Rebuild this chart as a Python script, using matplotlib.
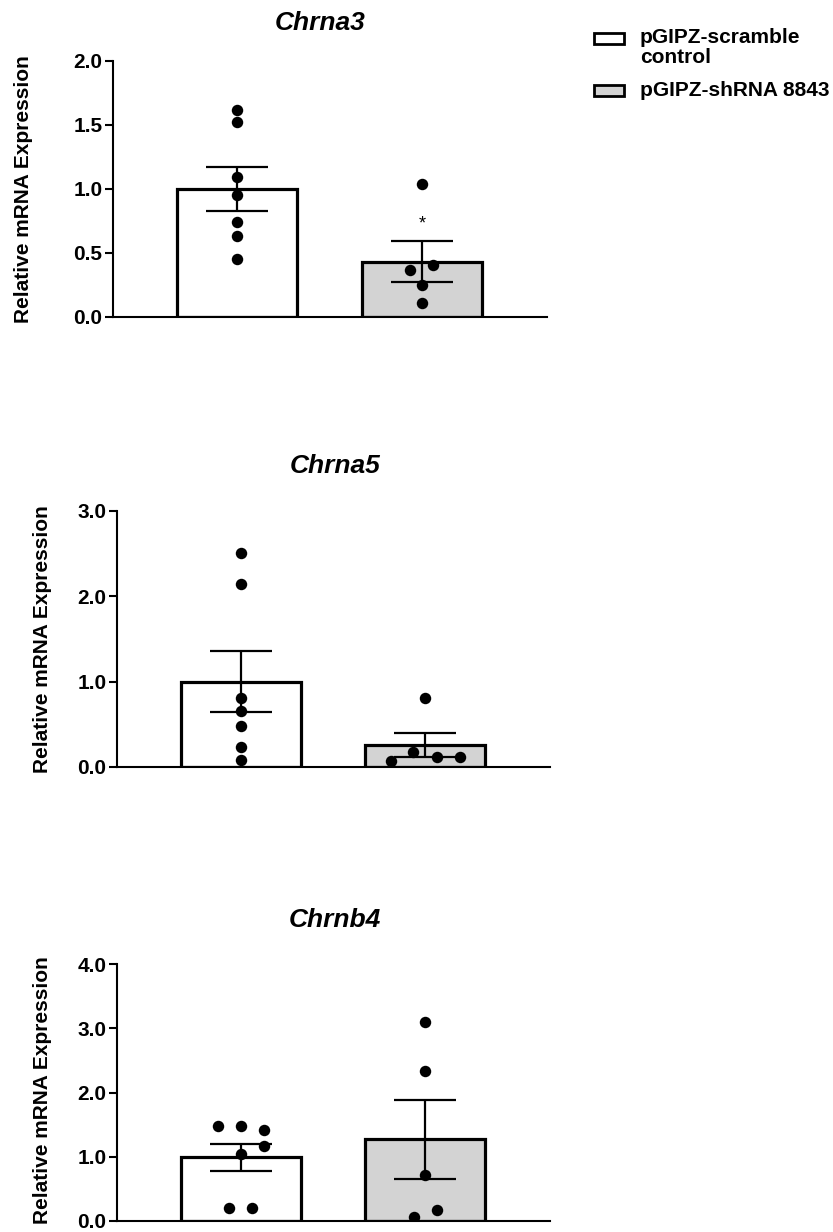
import numpy as np
import matplotlib
matplotlib.use("Agg")
import matplotlib.pyplot as plt
from matplotlib.patches import Rectangle

plt.rcParams['font.family'] = ['Liberation Sans', 'DejaVu Sans']

# Data, group order: scramble control, shRNA 8843
genes = ["Chrna3", "Chrna5", "Chrnb4"]
groups = ["pGIPZ-scramble\ncontrol", "pGIPZ-shRNA 8843"]

chrna3_means = [1.0, 0.43]
chrna3_sem = [0.17, 0.16]
chrna3_ctrl = [1.62, 1.52, 1.09, 0.95, 0.74, 0.63, 0.45]
chrna3_sh = [1.04, 0.41, 0.37, 0.25, 0.11]

chrna5_means = [1.0, 0.26]
chrna5_sem = [0.36, 0.14]
chrna5_ctrl = [2.51, 2.15, 0.81, 0.66, 0.48, 0.23, 0.085]
chrna5_sh = [0.81, 0.18, 0.07, 0.12, 0.12]

chrnb4_means = [0.99, 1.27]
chrnb4_sem = [0.21, 0.61]
chrnb4_ctrl = [1.48, 1.48, 1.42, 1.16, 1.04, 0.21, 0.21]
chrnb4_sh = [3.09, 2.34, 0.71, 0.17, 0.07]

y_max = [2.0, 3.0, 4.0]
y_step = [0.5, 1.0, 1.0]

# horizontal spread of overlapping dots (layout only)
dx_ctrl = [[0, 0, 0, 0, 0, 0, 0],
           [0, 0, 0, 0, 0, 0, 0],
           [-0.125, 0, 0.125, 0.125, 0, -0.063, 0.063]]
dx_sh = [[0, 0.06, -0.065, 0, 0],
         [0, -0.065, -0.185, 0.065, 0.19],
         [0, 0, 0, 0.063, -0.063]]

means = [chrna3_means, chrna5_means, chrnb4_means]
sems = [chrna3_sem, chrna5_sem, chrnb4_sem]
ctrl_pts = [chrna3_ctrl, chrna5_ctrl, chrnb4_ctrl]
sh_pts = [chrna3_sh, chrna5_sh, chrnb4_sh]

W, H = 833, 1232
fig = plt.figure(figsize=(W / 100, H / 100), dpi=100)

# axes boxes in pixels: left, right, top, bottom
boxes = [(113, 547, 61, 317), (117, 550, 511, 767), (117, 550, 964, 1221)]
title_pos = [(0.477, 1.148), (0.503, 1.176), (0.503, 1.17)]
ylabel_x = [-0.184, -0.150, -0.150]
ylabel_y = [0.5, 0.5, 0.51]

colors = ["white", "#d3d3d3"]

for i, gene in enumerate(genes):
    l, r, t, b = boxes[i]
    ax = fig.add_axes([l / W, 1 - b / H, (r - l) / W, (b - t) / H])
    x = np.arange(2)
    ax.bar(x, means[i], width=0.65, color=colors, edgecolor="black",
           linewidth=2.3, zorder=2)
    ax.errorbar(x, means[i], yerr=sems[i], fmt="none", ecolor="black",
                elinewidth=1.6, capsize=22, capthick=1.6, zorder=3)
    ax.scatter(x[0] + np.array(dx_ctrl[i]), ctrl_pts[i], s=68, color="black",
               zorder=4, linewidths=0)
    ax.scatter(x[1] + np.array(dx_sh[i]), sh_pts[i], s=68, color="black",
               zorder=4, linewidths=0)

    ax.set_xlim(-0.67, 1.675)
    ax.set_ylim(0, y_max[i])
    ticks = np.arange(0, y_max[i] + 1e-9, y_step[i])
    ax.set_yticks(ticks)
    ax.set_yticklabels([f"{v:.1f}" for v in ticks], fontsize=15, fontweight="bold")
    ax.set_xticks([])
    for s in ["top", "right"]:
        ax.spines[s].set_visible(False)
    for s in ["left", "bottom"]:
        ax.spines[s].set_linewidth(1.5)
    ax.tick_params(axis="y", length=6, width=1.5, pad=1.5)
    ax.set_ylabel("Relative mRNA Expression", fontsize=15, fontweight="bold")
    ax.yaxis.set_label_coords(ylabel_x[i], ylabel_y[i])
    ax.text(title_pos[i][0], title_pos[i][1], gene, transform=ax.transAxes,
            ha="center", va="center", fontsize=19, fontweight="bold",
            fontstyle="italic")
    ax.patch.set_visible(False)

    if i == 0:
        ax.text(1, 0.73, "*", ha="center", va="center", fontsize=13)

# legend drawn at the top right
for j, (ytop, lab, yc) in enumerate([(33, groups[0], 47.5), (85, groups[1], 90)]):
    fig.patches.append(Rectangle((594 / W, 1 - (ytop + 11) / H), 30 / W, 11 / H,
                                 transform=fig.transFigure, facecolor=colors[j],
                                 edgecolor="black", linewidth=2.0))
    fig.text(640 / W, 1 - yc / H, lab, ha="left", va="center", fontsize=15,
             fontweight="bold", linespacing=1.05)

fig.savefig("out.png", dpi=100)
